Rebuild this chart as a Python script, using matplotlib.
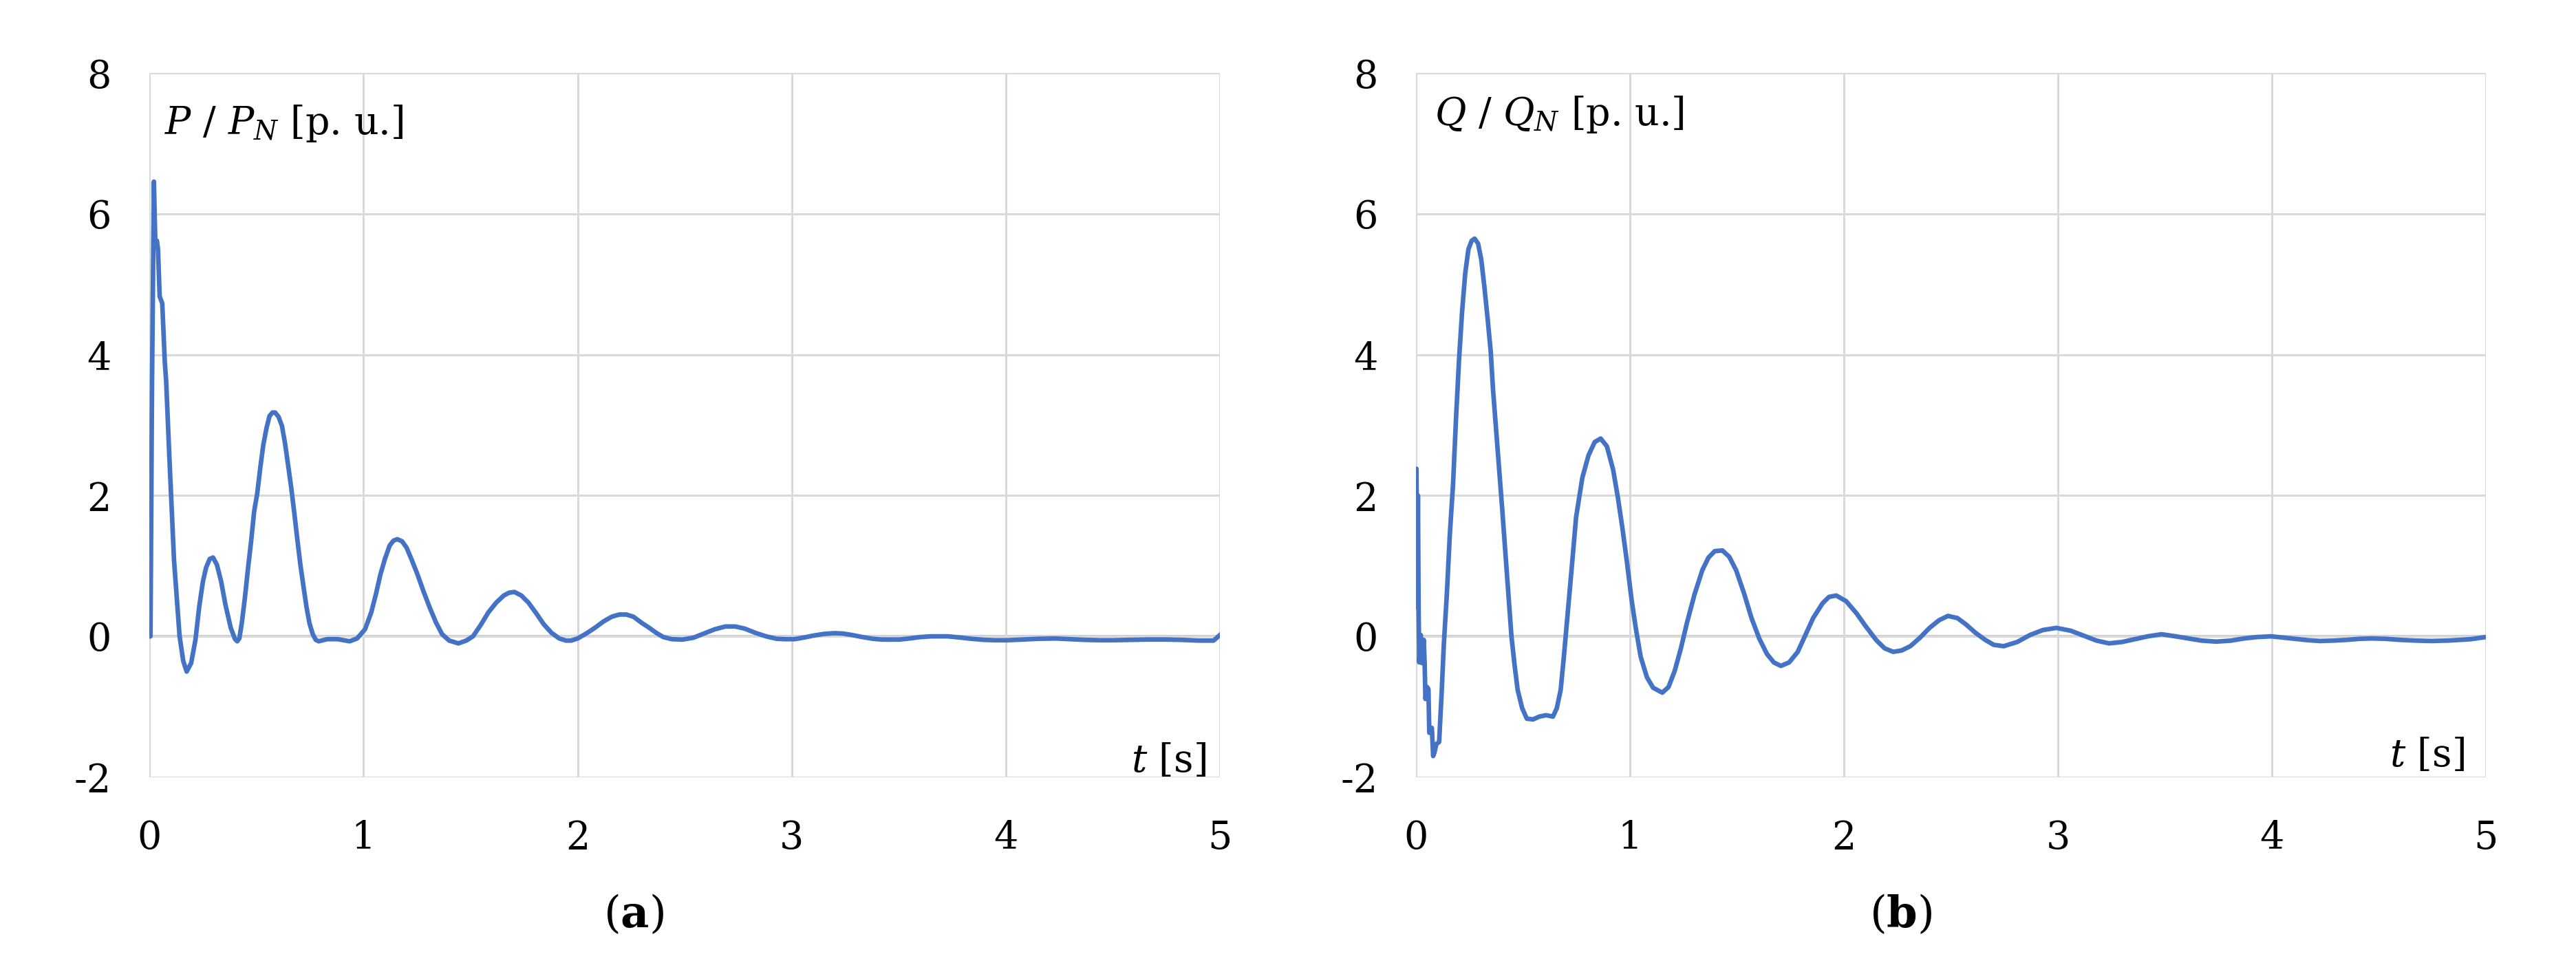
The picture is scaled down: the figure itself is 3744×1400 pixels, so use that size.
import matplotlib
matplotlib.use('Agg')
import matplotlib.pyplot as plt

plt.rcParams['font.family'] = ['DejaVu Serif']
plt.rcParams['mathtext.fontset'] = 'dejavuserif'
plt.rcParams['axes.unicode_minus'] = False

# (a) active power P/PN
t_p = [0.0, 0.005, 0.012, 0.021, 0.028, 0.035, 0.040, 0.048, 0.060, 0.072,
       0.078, 0.093, 0.115, 0.141, 0.158, 0.174, 0.195, 0.215, 0.233, 0.250,
       0.265, 0.282, 0.297, 0.315, 0.335, 0.355, 0.380, 0.400, 0.410, 0.420,
       0.432, 0.446, 0.460, 0.475, 0.489, 0.504, 0.518, 0.532, 0.547, 0.561,
       0.575, 0.587, 0.603, 0.619, 0.633, 0.647, 0.662, 0.676, 0.690, 0.705,
       0.720, 0.734, 0.748, 0.763, 0.777, 0.791, 0.83, 0.88, 0.935, 0.97,
       1.007, 1.036, 1.058, 1.079, 1.100, 1.122, 1.140, 1.158, 1.180, 1.201,
       1.226, 1.252, 1.280, 1.309, 1.338, 1.367, 1.400, 1.443, 1.480, 1.511,
       1.547, 1.583, 1.620, 1.655, 1.680, 1.705, 1.737, 1.770, 1.806, 1.842,
       1.878, 1.914, 1.945, 1.970, 2.00, 2.04, 2.08, 2.12, 2.16, 2.195,
       2.227, 2.26, 2.30, 2.335, 2.367, 2.40, 2.44, 2.489, 2.54, 2.59,
       2.64, 2.69, 2.736, 2.78, 2.83, 2.88, 2.93, 2.97, 3.013, 3.06,
       3.10, 3.15, 3.20, 3.238, 3.28, 3.33, 3.38, 3.42, 3.46, 3.505,
       3.55, 3.60, 3.65, 3.69, 3.73, 3.78, 3.84, 3.90, 3.95, 4.006,
       4.08, 4.15, 4.23, 4.30, 4.37, 4.44, 4.50, 4.58, 4.66, 4.746,
       4.82, 4.90, 4.97, 5.0]
p_val = [0.0, 0.0, 3.5, 6.46, 5.55, 5.62, 5.5, 4.83, 4.73, 3.89,
         3.64, 2.56, 1.08, 0.0, -0.35, -0.50, -0.38, -0.05, 0.43, 0.78,
         0.98, 1.10, 1.12, 1.02, 0.78, 0.45, 0.12, -0.04, -0.07, -0.03,
         0.20, 0.55, 0.95, 1.35, 1.77, 2.04, 2.40, 2.72, 2.96, 3.13,
         3.18, 3.18, 3.12, 2.99, 2.75, 2.45, 2.12, 1.77, 1.40, 1.02,
         0.70, 0.41, 0.18, 0.03, -0.05, -0.07, -0.04, -0.04, -0.07, -0.03,
         0.10, 0.34, 0.60, 0.88, 1.10, 1.29, 1.36, 1.38, 1.35, 1.26,
         1.08, 0.88, 0.64, 0.41, 0.20, 0.03, -0.06, -0.10, -0.06, 0.0,
         0.16, 0.34, 0.48, 0.58, 0.62, 0.63, 0.58, 0.48, 0.33, 0.17,
         0.05, -0.03, -0.06, -0.06, -0.03, 0.04, 0.12, 0.21, 0.28, 0.31,
         0.31, 0.28, 0.19, 0.12, 0.05, -0.01, -0.04, -0.046, -0.02, 0.04,
         0.10, 0.14, 0.14, 0.11, 0.05, 0.0, -0.035, -0.04, -0.04, -0.015,
         0.01, 0.035, 0.045, 0.04, 0.02, -0.01, -0.035, -0.045, -0.046, -0.045,
         -0.03, -0.01, 0.0, 0.0, 0.0, -0.015, -0.035, -0.05, -0.055, -0.055,
         -0.045, -0.035, -0.03, -0.04, -0.05, -0.055, -0.055, -0.05, -0.045, -0.045,
         -0.05, -0.06, -0.06, 0.02]

# (b) reactive power Q/QN
t_q = [0.0, 0.002, 0.006, 0.009, 0.012, 0.015, 0.022, 0.028, 0.036, 0.040,
       0.044, 0.052, 0.058, 0.062, 0.074, 0.080, 0.086, 0.095, 0.108, 0.119,
       0.130, 0.144, 0.158, 0.173, 0.187, 0.201, 0.215, 0.230, 0.245, 0.260,
       0.274, 0.290, 0.305, 0.320, 0.335, 0.349, 0.360, 0.374, 0.388, 0.403,
       0.417, 0.432, 0.446, 0.461, 0.475, 0.496, 0.518, 0.547, 0.576, 0.608,
       0.640, 0.658, 0.676, 0.690, 0.705, 0.727, 0.748, 0.777, 0.806, 0.835,
       0.863, 0.892, 0.921, 0.943, 0.964, 0.986, 1.007, 1.028, 1.050, 1.079,
       1.108, 1.151, 1.180, 1.209, 1.238, 1.266, 1.302, 1.338, 1.367, 1.396,
       1.432, 1.464, 1.496, 1.532, 1.568, 1.604, 1.640, 1.672, 1.705, 1.744,
       1.784, 1.820, 1.856, 1.900, 1.930, 1.964, 2.010, 2.058, 2.100, 2.150,
       2.190, 2.230, 2.270, 2.310, 2.355, 2.400, 2.445, 2.486, 2.530, 2.570,
       2.615, 2.660, 2.700, 2.746, 2.81, 2.87, 2.93, 2.993, 3.06, 3.12,
       3.18, 3.239, 3.30, 3.36, 3.42, 3.484, 3.55, 3.61, 3.67, 3.74,
       3.81, 3.87, 3.93, 3.997, 4.06, 4.11, 4.17, 4.225, 4.29, 4.35,
       4.41, 4.467, 4.53, 4.60, 4.67, 4.744, 4.82, 4.88, 4.93, 5.0]
q_val = [0.42, 2.38, 0.50, 2.00, 0.40, -0.37, 0.02, -0.38, -0.05, -0.35,
         -0.89, -0.72, -0.75, -1.37, -1.30, -1.70, -1.65, -1.53, -1.50, -0.85,
         -0.11, 0.60, 1.45, 2.16, 3.10, 3.93, 4.60, 5.16, 5.50, 5.62,
         5.65, 5.58, 5.35, 4.95, 4.50, 4.05, 3.50, 2.95, 2.40, 1.80,
         1.21, 0.58, 0.0, -0.42, -0.76, -1.02, -1.17, -1.18, -1.14, -1.12,
         -1.14, -1.02, -0.76, -0.32, 0.19, 0.95, 1.69, 2.25, 2.57, 2.76,
         2.81, 2.70, 2.37, 1.98, 1.55, 1.05, 0.53, 0.10, -0.29, -0.58,
         -0.73, -0.80, -0.72, -0.49, -0.17, 0.19, 0.60, 0.94, 1.12, 1.21,
         1.22, 1.13, 0.94, 0.62, 0.26, -0.03, -0.25, -0.37, -0.42, -0.37,
         -0.22, 0.02, 0.26, 0.47, 0.56, 0.58, 0.50, 0.33, 0.15, -0.05,
         -0.17, -0.22, -0.20, -0.14, -0.02, 0.12, 0.23, 0.29, 0.26, 0.17,
         0.05, -0.05, -0.12, -0.14, -0.08, 0.02, 0.09, 0.12, 0.08, 0.01,
         -0.06, -0.10, -0.08, -0.04, 0.0, 0.03, 0.0, -0.03, -0.06, -0.075,
         -0.06, -0.03, -0.01, 0.0, -0.02, -0.035, -0.055, -0.066, -0.06, -0.05,
         -0.035, -0.03, -0.035, -0.05, -0.06, -0.066, -0.06, -0.05, -0.04, -0.01]

x_ticks = [0, 1, 2, 3, 4, 5]
y_ticks = [-2, 0, 2, 4, 6, 8]

line_color = '#4472C4'
fs = 40

fig = plt.figure(figsize=(37.44, 14), dpi=100)
ax1 = fig.add_axes([0.058, 0.193, 0.4156, 0.731])
ax2 = fig.add_axes([0.5497, 0.193, 0.4153, 0.731])

panels = [
    (ax1, t_p, p_val, r'$P$ / $P_N$ [p. u.]', (0.07, 7.13), (4.935, -1.92), '(a)', 0.246),
    (ax2, t_q, q_val, r'$Q$ / $Q_N$ [p. u.]', (0.087, 7.26), (4.90, -1.85), '(b)', 0.738),
]

for ax, t, v, lab, lab_pos, tlab_pos, cap, cap_x in panels:
    ax.plot(t, v, color=line_color, lw=4.8, zorder=3, solid_joinstyle='round')
    ax.set_xlim(0, 5)
    ax.set_ylim(-2, 8)
    ax.set_xticks(x_ticks)
    ax.set_yticks(y_ticks)
    for s in ax.spines.values():
        s.set_visible(False)
    ax.grid(True, color='#D9D9D9', lw=2.2, zorder=0)
    ax.axhline(0, color='#BFBFBF', lw=2.6, zorder=1)
    ax.axvline(0, color='#BFBFBF', lw=2.6, zorder=1)
    ax.tick_params(axis='both', length=0, labelsize=fs)
    ax.tick_params(axis='y', pad=40)
    ax.tick_params(axis='x', pad=44)
    ax.text(lab_pos[0], lab_pos[1], lab, fontsize=fs, ha='left', va='baseline')
    ax.text(tlab_pos[0], tlab_pos[1], r'$t$ [s]', fontsize=fs, ha='right', va='baseline')
    fig.text(cap_x, 1 - 1330 / 1400, cap[0] + r'$\mathbf{' + cap[1] + '}$' + cap[2],
             fontsize=46, ha='center', va='center')

fig.savefig('out.png', dpi=100, facecolor='white')
